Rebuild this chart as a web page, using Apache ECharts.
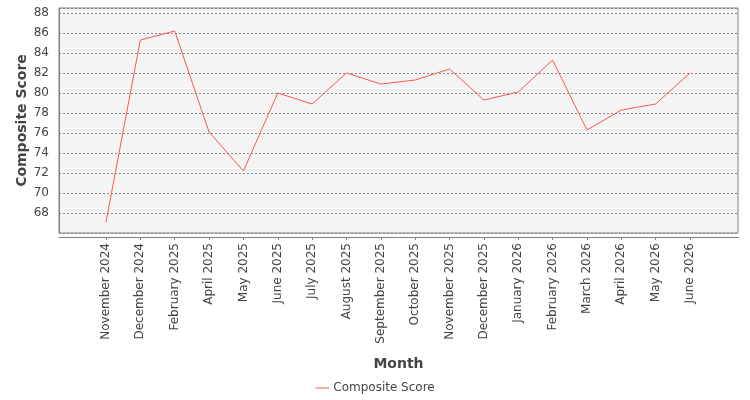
<!DOCTYPE html>
<html>
<head>
<meta charset="utf-8">
<script src="https://cdn.jsdelivr.net/npm/echarts@6/dist/echarts.min.js"></script>
<style>
  html, body { margin: 0; padding: 0; background: #fff; }
  #chart { width: 750px; height: 400px; }
</style>
</head>
<body>
<div id="chart"></div>
<script>
// months on the x axis
const months = [
  'November 2024', 'December 2024', 'February 2025', 'April 2025', 'May 2025',
  'June 2025', 'July 2025', 'August 2025', 'September 2025', 'October 2025',
  'November 2025', 'December 2025', 'January 2026', 'February 2026', 'March 2026',
  'April 2026', 'May 2026', 'June 2026'
]
// composite score per month
const scores = [
  67.1, 85.3, 86.2, 76.1, 72.2,
  80.0, 78.9, 82.0, 80.9, 81.3,
  82.4, 79.3, 80.1, 83.3, 76.3,
  78.3, 78.9, 82.0
]

const textColor = '#444'
const axisGray = '#808080'
const font = 'DejaVu Sans'

const myChart = echarts.init(document.getElementById('chart'), null, { renderer: 'canvas' })

const option = {
  animation: false,
  textStyle: { fontFamily: font },
  legend: {
    left: 'center',
    top: 377,
    icon: 'rect',
    itemWidth: 14,
    itemHeight: 1,
    itemGap: 10,
    textStyle: { color: textColor, fontSize: 12, fontFamily: font, padding: [0, 0, 0, -1] },
    data: ['Composite Score'],
  },
  grid: [
    // plot frame + background
    {
      left: 59, right: 12, top: 8, bottom: 167,
      show: true,
      backgroundColor: '#f4f4f4',
      borderColor: axisGray,
      borderWidth: 1,
    },
    // inset area where the categories sit
    {
      left: 106, right: 60, top: 8, bottom: 167,
    },
  ],
  xAxis: [
    {
      gridIndex: 0,
      type: 'value',
      min: 0,
      max: 1,
      offset: 4,
      name: 'Month',
      nameLocation: 'middle',
      nameGap: 120,
      nameMoveOverlap: false,
      nameTextStyle: { color: textColor, fontSize: 14, fontWeight: 'bold', fontFamily: font },
      axisLine: { show: true, lineStyle: { color: axisGray, width: 1 } },
      axisTick: { show: false },
      axisLabel: { show: false },
      splitLine: { show: false },
    },
    {
      gridIndex: 1,
      type: 'category',
      data: months,
      boundaryGap: false,
      offset: 4,
      axisLine: { show: false },
      axisTick: { show: true, length: 3, interval: 0, lineStyle: { color: axisGray } },
      axisLabel: {
        interval: 0,
        rotate: 90,
        margin: 6,
        color: textColor,
        fontSize: 12,
        fontFamily: font,
      },
      splitLine: { show: false },
    },
  ],
  yAxis: [
    {
      gridIndex: 0,
      type: 'value',
      min: 66,
      max: 88.5,
      interval: 2,
      offset: 4,
      name: 'Composite Score',
      nameLocation: 'middle',
      nameGap: 26,
      nameMoveOverlap: false,
      nameTextStyle: { color: textColor, fontSize: 14, fontWeight: 'bold', fontFamily: font },
      axisLine: { show: true, lineStyle: { color: axisGray, width: 1 } },
      axisTick: { show: false },
      axisLabel: {
        color: textColor,
        fontSize: 12,
        fontFamily: font,
        margin: 6,
        showMinLabel: false,
        showMaxLabel: false,
      },
      splitLine: { show: true, lineStyle: { color: '#888', type: [2, 2], width: 1 } },
    },
    {
      gridIndex: 1,
      type: 'value',
      min: 66,
      max: 88.5,
      show: false,
      splitLine: { show: false },
    },
  ],
  series: [
    {
      name: 'Composite Score',
      type: 'line',
      xAxisIndex: 1,
      yAxisIndex: 1,
      data: scores,
      symbol: 'none',
      color: '#ff5555',
      lineStyle: { width: 1, color: '#ff5555' },
    },
  ],
}

option && myChart.setOption(option)
</script>
</body>
</html>
